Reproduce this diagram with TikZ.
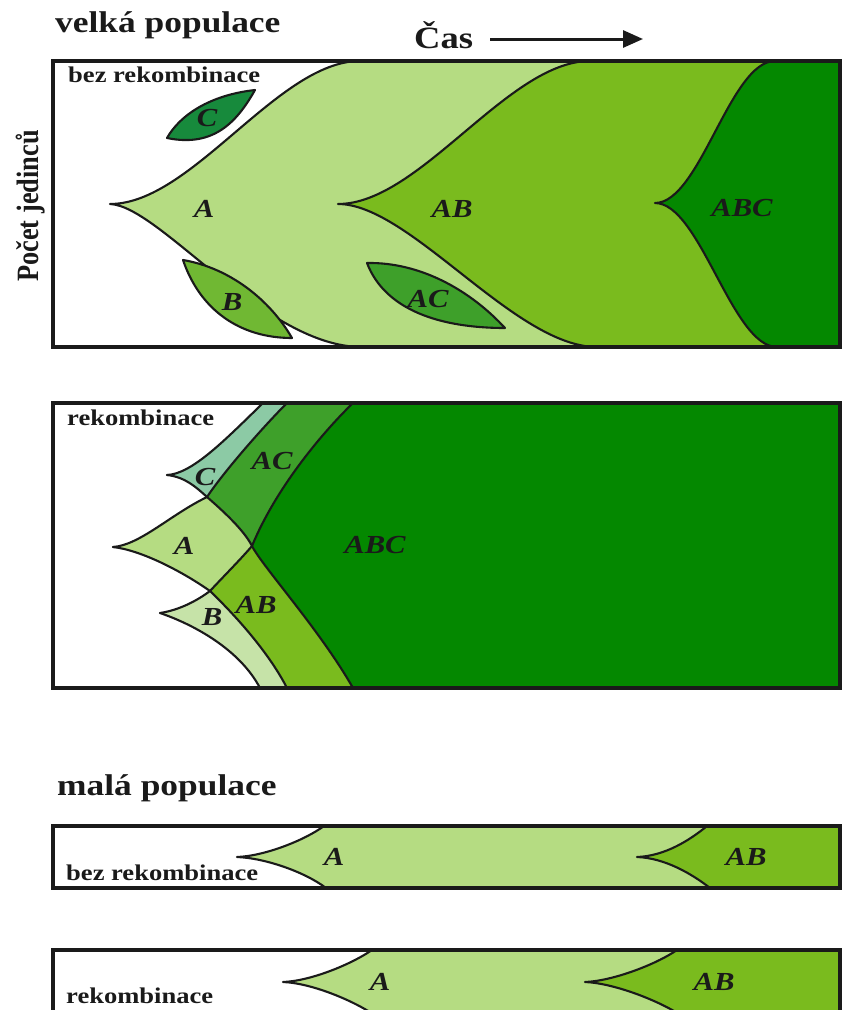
\documentclass[tikz,border=0pt]{standalone}
\usepackage{fontspec}
\setmainfont{Liberation Serif}[FakeStretch=1.18]
\newfontfamily\vertfont{Liberation Serif}[FakeStretch=0.85]
\usetikzlibrary{arrows.meta}
\definecolor{cA}{HTML}{B5DC82}
\definecolor{cAB}{HTML}{7ABB1E}
\definecolor{cABC}{HTML}{048800}
\definecolor{leafC}{HTML}{178A3C}
\definecolor{leafB}{HTML}{70B833}
\definecolor{cAC}{HTML}{3EA02A}
\definecolor{pC}{HTML}{8CCAA5}
\definecolor{pB}{HTML}{C6E3A8}
\definecolor{ink}{HTML}{1A1A1A}
\tikzset{
  panel/.style={draw=ink, line width=3.2pt},
  curve/.style={draw=ink, line width=2.1pt, line join=round, line cap=round},
  lab/.style={font=\fontsize{26}{26}\selectfont\bfseries\itshape, inner sep=0pt, text=ink},
  head/.style={font=\fontsize{30}{30}\selectfont\bfseries, inner sep=0pt, anchor=base west, text=ink},
  sub/.style={font=\fontsize{22.5}{22.5}\selectfont\bfseries, inner sep=0pt, anchor=base west, text=ink},
  timearrow/.style={draw=ink, line width=3pt, -{Triangle[length=20pt,width=17pt]}},
}
\begin{document}
\begin{tikzpicture}[x=1pt,y=-1pt]
\useasboundingbox (0,0) rectangle (844,1010);
\clip (0,0) rectangle (844,1010);

% ---------- headings ----------
\node[head] (title1) at (55,32) {velká populace};
\node[head, font=\fontsize{31}{31}\selectfont\bfseries] (cas) at (414,48) {Čas};
\coordinate (tstart) at (490,39);
\coordinate (tend) at (643,39);
\draw[timearrow] (tstart) -- (tend);
\node[inner sep=0pt, rotate=90, anchor=base, text=ink, font=\vertfont\fontsize{31}{31}\selectfont\bfseries] (ylab) at (38,206) {Počet jedinců};

% ---------- panel 1 : bez rekombinace ----------
\fill[white] (53,61) rectangle (840,347);
\fill[cA] (110,204) .. controls (192,204) and (278,61) .. (360,61) -- (840,61) -- (840,347) -- (362,347) .. controls (265,347) and (160,206) .. (110,204) -- cycle;
\fill[cAB] (338,204) .. controls (420,204) and (508,61) .. (590,61) -- (840,61) -- (840,347) -- (597,347) .. controls (515,347) and (410,204) .. (338,204) -- cycle;
\fill[cABC] (655,203) .. controls (700,203) and (730,61) .. (775,61) -- (840,61) -- (840,347) -- (777,347) .. controls (732,347) and (700,203) .. (655,203) -- cycle;
\draw[curve] (360,61) .. controls (278,61) and (192,204) .. (110,204) .. controls (160,206) and (265,347) .. (362,347);
\draw[curve] (590,61) .. controls (508,61) and (420,204) .. (338,204) .. controls (410,204) and (515,347) .. (597,347);
\draw[curve] (775,61) .. controls (730,61) and (700,203) .. (655,203) .. controls (700,203) and (732,347) .. (777,347);
\filldraw[curve, fill=leafC] (167,138) .. controls (180,115) and (210,95) .. (255,90) .. controls (238,120) and (215,148) .. (167,138) -- cycle;
\filldraw[curve, fill=leafB] (183,260) .. controls (230,268) and (270,300) .. (292,338) .. controls (240,338) and (200,310) .. (183,260) -- cycle;
\filldraw[curve, fill=cAC] (367,263) .. controls (420,262) and (470,290) .. (505,328) .. controls (440,328) and (385,310) .. (367,263) -- cycle;
\draw[panel] (53,61) rectangle (840,347);
\node[sub] (p1t) at (68,82) {bez rekombinace};
\node[lab] (p1A) at (204,209) {A};
\node[lab] (p1AB) at (452,209) {AB};
\node[lab] (p1ABC) at (742,208) {ABC};
\node[lab] (p1C) at (207,118) {C};
\node[lab] (p1B) at (232,302) {B};
\node[lab] (p1AC) at (428,299) {AC};

% ---------- panel 2 : rekombinace ----------
\fill[white] (53,403) rectangle (840,688);
% ABC
\fill[cABC] (353,403) -- (840,403) -- (840,688) -- (353,688) .. controls (320,630) and (262,566) .. (252,546) .. controls (275,490) and (320,435) .. (353,403) -- cycle;
% AC
\fill[cAC] (287,403) -- (353,403) .. controls (320,435) and (275,490) .. (252,546) .. controls (244,530) and (222,510) .. (207,497) .. controls (225,470) and (265,425) .. (287,403) -- cycle;
% C
\fill[pC] (167,475) .. controls (192,474) and (225,440) .. (263,403) -- (287,403) .. controls (265,425) and (225,470) .. (207,497) .. controls (196,487) and (185,477) .. (167,475) -- cycle;
% A
\fill[cA] (113,547) .. controls (140,545) and (170,515) .. (207,497) .. controls (222,510) and (244,530) .. (252,546) .. controls (240,560) and (222,578) .. (210,591) .. controls (180,570) and (140,550) .. (113,547) -- cycle;
% AB
\fill[cAB] (252,546) .. controls (262,566) and (320,630) .. (353,688) -- (287,688) .. controls (270,655) and (240,620) .. (210,591) .. controls (222,578) and (240,560) .. (252,546) -- cycle;
% B
\fill[pB] (160,613) .. controls (180,610) and (198,600) .. (210,591) .. controls (240,620) and (270,655) .. (287,688) -- (260,688) .. controls (240,650) and (195,625) .. (160,613) -- cycle;
% lines
\draw[curve] (167,475) .. controls (192,474) and (225,440) .. (263,403);
\draw[curve] (167,475) .. controls (185,477) and (196,487) .. (207,497) .. controls (222,510) and (244,530) .. (252,546) .. controls (262,566) and (320,630) .. (353,688);
\draw[curve] (287,403) .. controls (265,425) and (225,470) .. (207,497);
\draw[curve] (113,547) .. controls (140,545) and (170,515) .. (207,497);
\draw[curve] (353,403) .. controls (320,435) and (275,490) .. (252,546) .. controls (240,560) and (222,578) .. (210,591);
\draw[curve] (113,547) .. controls (140,550) and (180,570) .. (210,591) .. controls (240,620) and (270,655) .. (287,688);
\draw[curve] (160,613) .. controls (180,610) and (198,600) .. (210,591);
\draw[curve] (160,613) .. controls (195,625) and (240,650) .. (260,688);
\draw[panel] (53,403) rectangle (840,688);
\node[sub] (p2t) at (67,425) {rekombinace};
\node[lab] (p2C) at (205,477) {C};
\node[lab] (p2AC) at (272,461) {AC};
\node[lab] (p2A) at (184,546) {A};
\node[lab] (p2AB) at (256,605) {AB};
\node[lab] (p2B) at (212,617) {B};
\node[lab] (p2ABC) at (375,545) {ABC};

% ---------- small population ----------
\node[head] (title2) at (57,795) {malá populace};

% panel 3
\fill[white] (53,826) rectangle (840,888);
\fill[cA] (237,857) .. controls (265,856) and (305,840) .. (324,826) -- (840,826) -- (840,888) -- (326,888) .. controls (305,872) and (265,858) .. (237,857) -- cycle;
\fill[cAB] (637,857) .. controls (665,856) and (690,840) .. (707,826) -- (840,826) -- (840,888) -- (710,888) .. controls (692,874) and (665,858) .. (637,857) -- cycle;
\draw[curve] (324,826) .. controls (305,840) and (265,856) .. (237,857) .. controls (265,858) and (305,872) .. (326,888);
\draw[curve] (707,826) .. controls (690,840) and (665,856) .. (637,857) .. controls (665,858) and (692,874) .. (710,888);
\draw[panel] (53,826) rectangle (840,888);
\node[sub] (p3t) at (66,880) {bez rekombinace};
\node[lab] (p3A) at (334,857) {A};
\node[lab] (p3AB) at (746,857) {AB};

% panel 4
\fill[white] (53,950) rectangle (840,1014);
\fill[cA] (283,982) .. controls (310,981) and (350,965) .. (372,950) -- (840,950) -- (840,1014) -- (373,1014) .. controls (350,999) and (310,983) .. (283,982) -- cycle;
\fill[cAB] (585,982) .. controls (612,981) and (655,965) .. (677,950) -- (840,950) -- (840,1014) -- (679,1014) .. controls (655,999) and (612,983) .. (585,982) -- cycle;
\draw[curve] (372,950) .. controls (350,965) and (310,981) .. (283,982) .. controls (310,983) and (350,999) .. (373,1014);
\draw[curve] (677,950) .. controls (655,965) and (612,981) .. (585,982) .. controls (612,983) and (655,999) .. (679,1014);
\draw[panel] (53,950) rectangle (840,1014);
\node[sub] (p4t) at (66,1003) {rekombinace};
\node[lab] (p4A) at (380,982) {A};
\node[lab] (p4AB) at (714,982) {AB};
\end{tikzpicture}
\end{document}
